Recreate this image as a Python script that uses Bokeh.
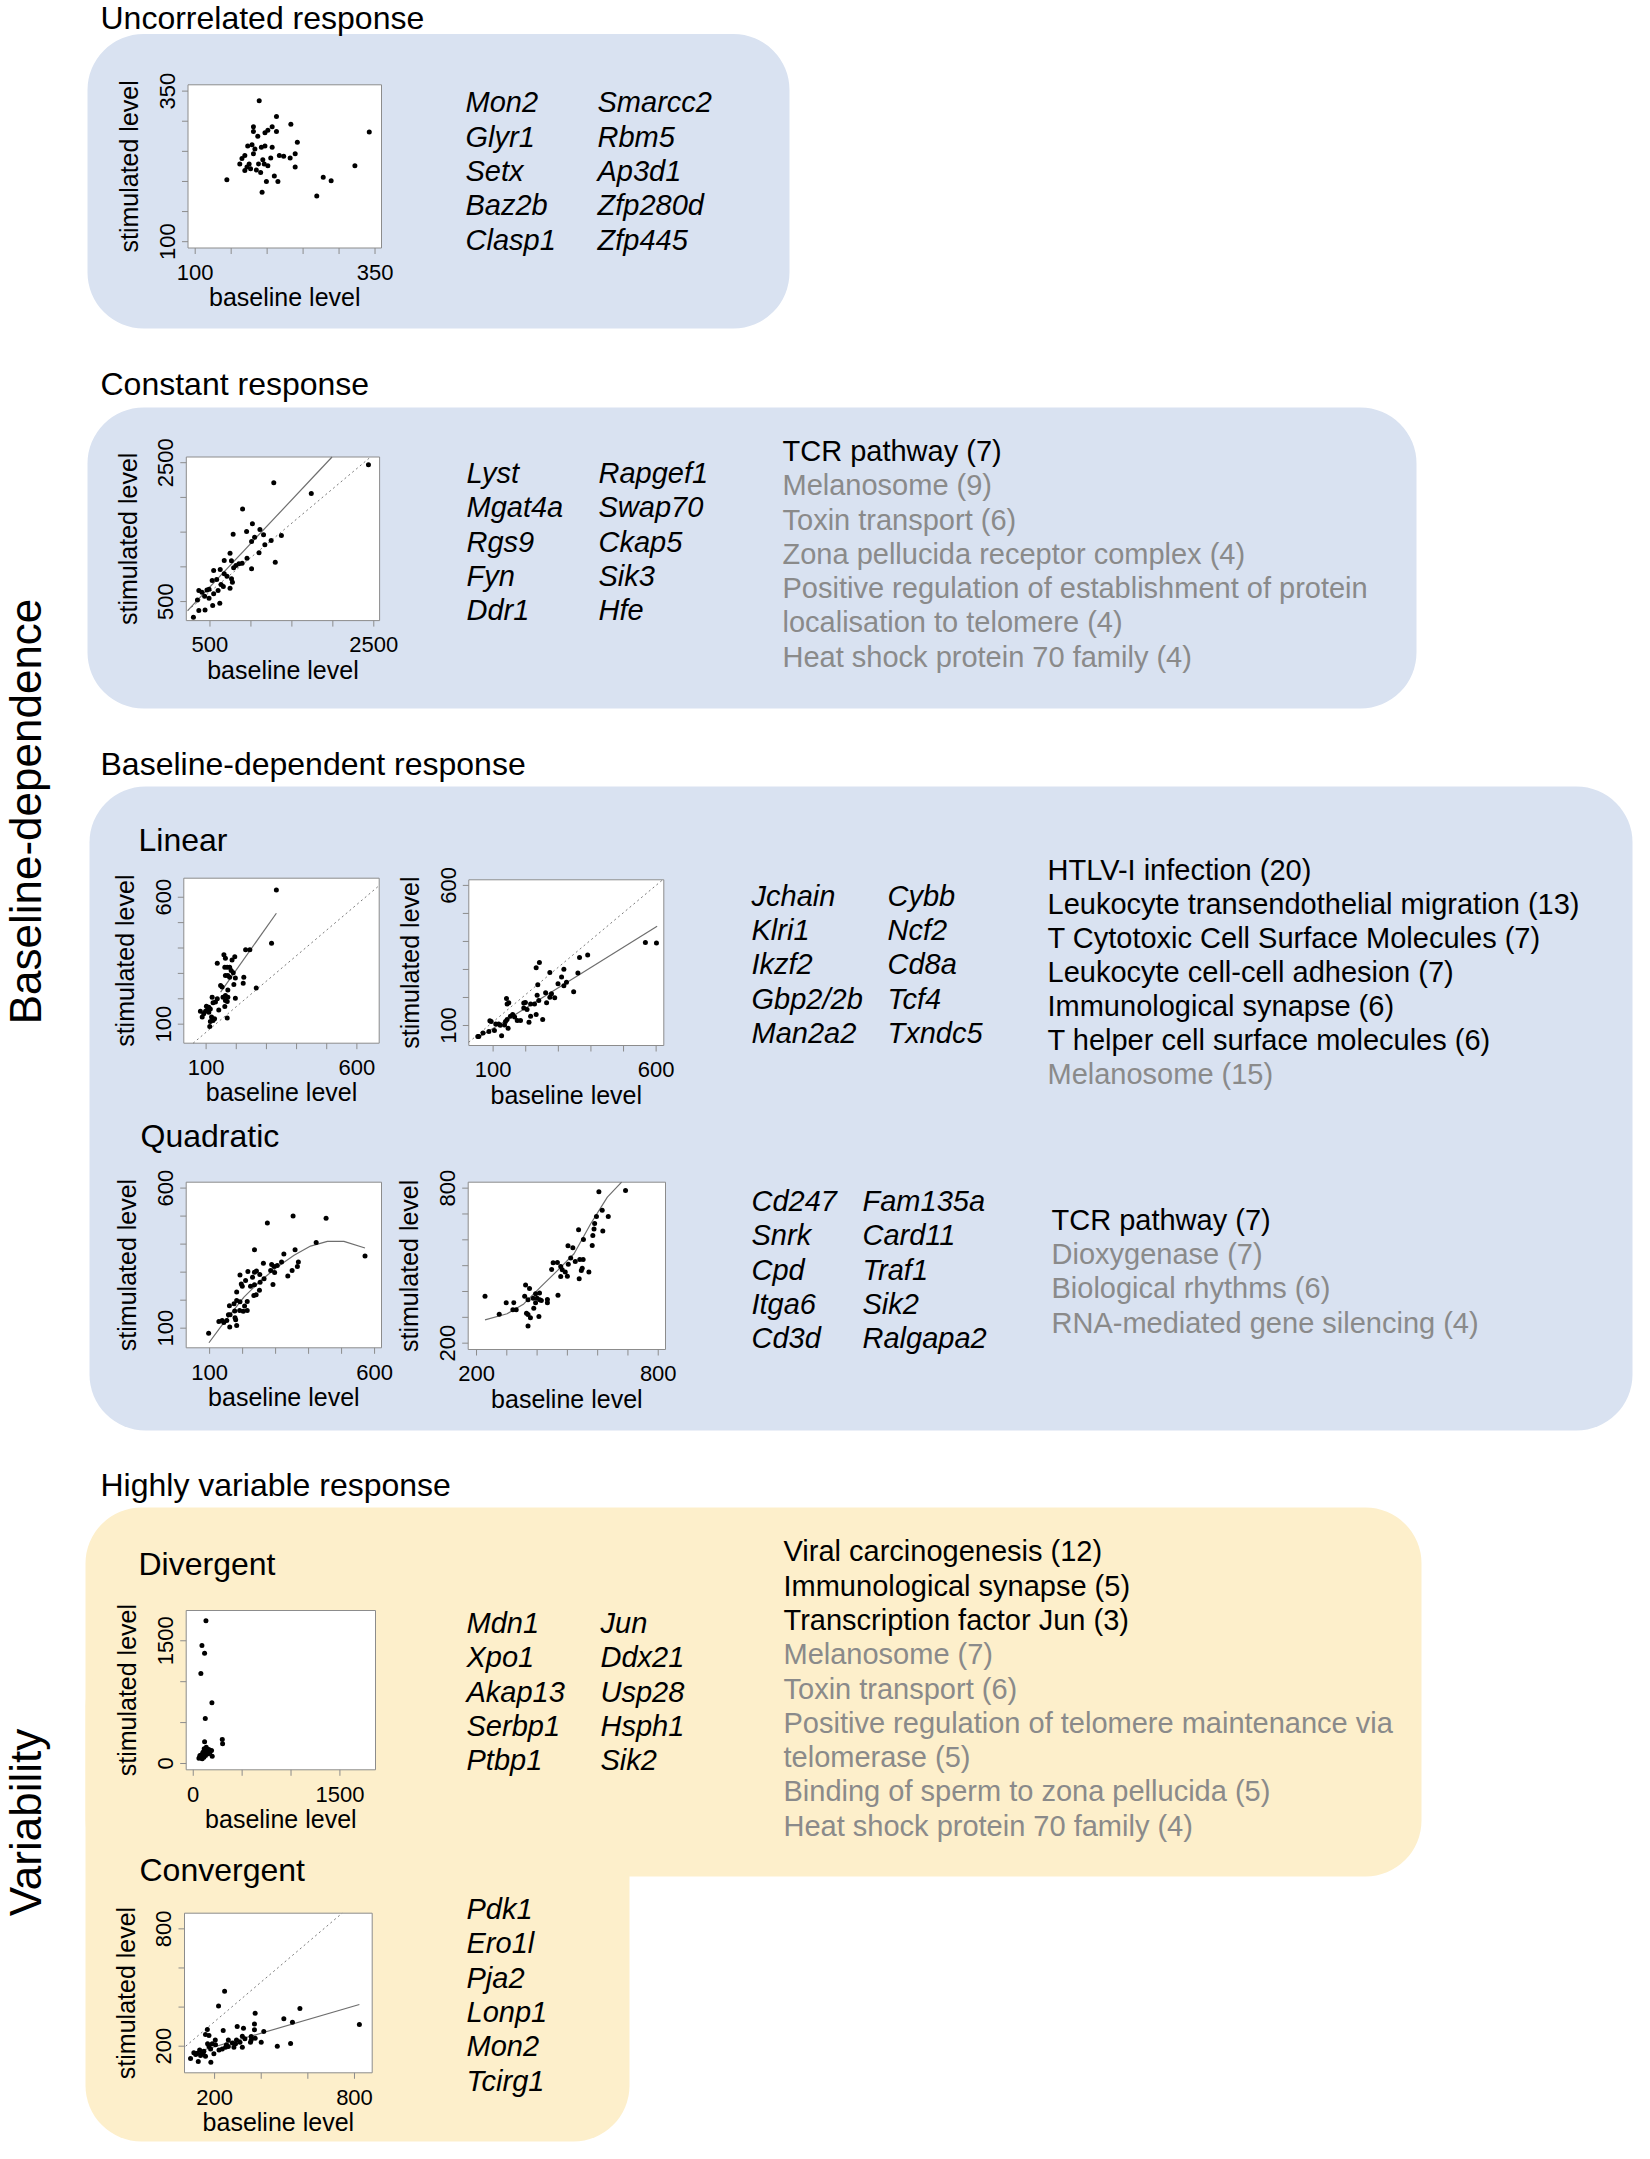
import math
from bokeh.plotting import figure
from bokeh.models import Range1d, BoxAnnotation
from bokeh.core.properties import value
from bokeh.embed import file_html
from bokeh.resources import INLINE

# ---------------- data ----------------
section_titles = ["Uncorrelated response", "Constant response",
                  "Baseline-dependent response", "Highly variable response"]
sub_titles = ["Linear", "Quadratic", "Divergent", "Convergent"]
side_labels = ["Baseline-dependence", "Variability"]
x_axis_label = "baseline level"
y_axis_label = "stimulated level"

# Uncorrelated
uncor_x = [189,213,233,181,207,201,213,181,342,187,197,242,173,179,192,197,207,183,181,239,
           217,223,232,205,194,169,165,162,175,188,196,239,322,169,177,185,191,210,278,144,
           199,215,289,193,269,172,201]
uncor_y = [334,308,295,291,291,285,283,283,282,275,281,265,259,261,257,259,257,254,246,246,
           243,242,239,239,236,243,238,229,229,229,229,224,226,218,221,219,215,209,207,203,
           200,200,201,182,176,224,226]
uncor_range_x = [90, 359]
uncor_range_y = [89.5, 360.5]
uncor_ticks = [100, 150, 200, 250, 300, 350]
uncor_labels = [100, 350]
uncor_genes_1 = ["Mon2", "Glyr1", "Setx", "Baz2b", "Clasp1"]
uncor_genes_2 = ["Smarcc2", "Rbm5", "Ap3d1", "Zfp280d", "Zfp445"]

# Constant
const_x = [2435,1279,1737,898,1018,1110,947,783,1154,1372,1045,1008,1247,1170,1099,745,952,674,762,893,
           854,817,1297,1008,789,625,545,674,582,708,763,774,527,635,745,489,463,599,364,402,
           545,435,489,347,620,533,440,364,298,663]
const_y = [2471,2212,2058,1832,1620,1538,1510,1471,1462,1452,1428,1365,1380,1317,1202,1197,1125,1091,1087,1053,
           1043,1019,1067,971,986,962,947,899,817,865,827,779,803,745,692,678,668,659,659,635,
           611,577,548,524,476,442,380,370,274,716]
const_fit_x = [227, 1990]
const_fit_y = [370, 2582]
const_id_x = [227, 2461]
const_id_y = [370, 2582]
const_range_x = [211, 2571]
const_range_y = [226, 2582]
const_ticks = [500, 1000, 1500, 2000, 2500]
const_labels = [500, 2500]
const_genes_1 = ["Lyst", "Mgat4a", "Rgs9", "Fyn", "Ddr1"]
const_genes_2 = ["Rapgef1", "Swap70", "Ckap5", "Sik3", "Hfe"]
const_terms = ["TCR pathway (7)", "Melanosome (9)", "Toxin transport (6)",
               "Zona pellucida receptor complex (4)",
               "Positive regulation of establishment of protein",
               "localisation to telomere (4)", "Heat shock protein 70 family (4)"]
const_terms_black = 1

# Linear (left)
linA_x = [333,317,231,245,159,195,164,137,186,162,170,178,183,190,164,172,178,197,225,223,
          192,148,153,172,266,164,156,172,197,120,137,131,164,170,123,162,101,109,104,114,
          98,109,81,142,118,87,128,123,114,170,112,92]
linA_y = [629,419,393,393,373,366,360,340,353,324,324,324,311,303,292,292,285,282,285,261,
          256,252,246,235,242,213,206,206,202,206,200,187,193,189,184,170,171,167,156,160,
          151,147,151,156,128,128,121,114,110,124,91,141]
linA_fit_x = [148, 333]
linA_fit_y = [226, 537]
linA_id_x = [57, 674]
linA_id_y = [25, 646]
linA_range_x = [26, 674]
linA_range_y = [25, 675]
# Linear (right)
linB_x = [567,601,365,390,242,232,274,360,317,310,325,317,299,237,347,261,279,289,274,235,
          264,240,227,141,148,143,194,199,215,194,204,232,215,210,252,160,166,153,174,184,
          138,143,135,146,90,94,108,117,122,104,87,69,56,126,53]
linB_y = [396,394,343,352,325,306,289,287,301,273,254,242,249,245,220,217,213,199,201,208,
          181,189,177,196,181,177,180,182,177,162,157,139,133,112,121,139,130,133,118,118,
          114,121,102,90,117,114,105,105,101,82,79,73,61,63,61]
linB_fit_x = [56, 603]
linB_fit_y = [58, 454]
linB_id_x = [25, 618]
linB_id_y = [40, 618]
linB_range_x = [25.4, 623.5]
linB_range_y = [28.6, 620]
lin_ticks = [100, 200, 300, 400, 500, 600]
lin_labels = [100, 600]
lin_genes_1 = ["Jchain", "Klri1", "Ikzf2", "Gbp2/2b", "Man2a2"]
lin_genes_2 = ["Cybb", "Ncf2", "Cd8a", "Tcf4", "Txndc5"]
lin_terms = ["HTLV-I infection (20)", "Leukocyte transendothelial migration  (13)",
             "T Cytotoxic Cell Surface Molecules (7)", "Leukocyte cell-cell adhesion (7)",
             "Immunological synapse (6)", "T helper cell surface molecules (6)",
             "Melanosome (15)"]
lin_terms_black = 6

# Quadratic (left)
quadC_x = [97,128,138,143,152,161,157,162,160,176,177,182,179,174,182,182,192,191,202,206,
           214,214,192,196,199,209,216,224,230,236,236,242,252,234,241,251,236,253,263,265,
           275,285,288,295,292,297,305,318,325,337,350,359,353,366,369,423,453,571]
quadC_y = [82,124,127,120,127,104,148,148,180,161,137,110,130,187,199,229,194,163,160,179,
           163,195,290,258,250,270,302,250,282,300,255,304,292,217,219,235,380,264,332,276,
           475,306,327,320,256,299,324,336,365,286,306,380,500,320,336,406,492,358]
quadC_curve_x = [98,133,164,204,255,305,356,406,457,507,571]
quadC_curve_y = [48,104,151,211,270,318,360,393,410,410,386]
quadC_range_x = [29, 621]
quadC_range_y = [30, 621]
quadC_ticks = [100, 200, 300, 400, 500, 600]
quadC_labels = [100, 600]
# Quadratic (right)
quadD_x = [228,275,298,323,320,331,362,375,359,370,365,370,378,370,389,387,395,400,408,409,
           414,406,395,434,434,469,448,453,467,478,483,493,478,500,503,511,502,518,526,539,
           541,552,546,549,571,582,553,537,584,588,590,596,617,635,615,604,692]
quadD_y = [382,312,356,356,329,329,425,412,382,368,316,311,298,266,335,374,391,374,394,368,
           365,303,356,369,356,385,485,511,512,497,484,475,458,459,505,530,577,569,516,449,
           524,524,481,490,475,578,601,639,617,642,663,690,634,690,714,786,791]
quadD_curve_x = [228,301,356,411,467,522,577,632,679]
quadD_curve_y = [290,314,352,417,481,546,662,765,823]
quadD_range_x = [172.5, 824]
quadD_range_y = [175.5, 823]
quadD_ticks = [200, 300, 400, 500, 600, 700, 800]
quadD_labels = [200, 800]
quad_genes_1 = ["Cd247", "Snrk", "Cpd", "Itga6", "Cd3d"]
quad_genes_2 = ["Fam135a", "Card11", "Traf1", "Sik2", "Ralgapa2"]
quad_terms = ["TCR pathway (7)", "Dioxygenase (7)", "Biological rhythms (6)",
              "RNA-mediated gene silencing (4)"]
quad_terms_black = 1

# Divergent
div_x = [130,89,116,78,191,123,297,300,116,68,85,102,126,143,160,187,194,109,92,75,
         126,133,112,153,170,58,99,119,143,68]
div_y = [1744,1443,1349,1100,742,550,293,240,265,77,106,126,159,139,171,159,90,77,57,69,
         98,200,179,118,139,65,139,126,167,98]
div_range_x = [-72, 1864]
div_range_y = [-77, 1870]
div_ticks = [0, 500, 1000, 1500]
div_labels = [0, 1500]
div_genes_1 = ["Mdn1", "Xpo1", "Akap13", "Serbp1", "Ptbp1"]
div_genes_2 = ["Jun", "Ddx21", "Usp28", "Hsph1", "Sik2"]
div_terms = ["Viral carcinogenesis (12)", "Immunological synapse (5)",
             "Transcription factor Jun (3)", "Melanosome (7)", "Toxin transport (6)",
             "Positive regulation of telomere maintenance via", "telomerase (5)",
             "Binding of sperm to zona pellucida (5)", "Heat shock protein 70 family (4)"]
div_terms_black = 3

# Convergent
conv_x = [243,217,566,374,497,534,821,371,297,324,237,411,169,161,176,371,357,374,400,354,
          357,319,330,294,309,290,283,319,276,259,259,247,251,233,219,203,204,197,190,170,
          176,183,154,144,136,140,126,119,111,97,130,184,469,526,150,161]
conv_y = [481,405,393,369,340,323,311,314,301,292,280,275,285,260,255,284,249,241,220,220,
          232,251,238,232,220,212,195,195,217,232,198,195,207,186,181,232,208,161,212,212,
          198,186,174,161,181,152,164,157,166,137,122,118,200,214,164,149]
conv_fit_x = [119, 821]
conv_fit_y = [169, 413]
conv_id_x = [76, 747]
conv_id_y = [200, 880]
conv_range_x = [71, 876]
conv_range_y = [64, 880]
conv_ticks = [200, 400, 600, 800]
conv_labels = [200, 800]
conv_genes = ["Pdk1", "Ero1l", "Pja2", "Lonp1", "Mon2", "Tcirg1"]

# ---------------- styling ----------------
FONT = value("Liberation Sans")
BLUE = "#d9e2f1"
YELLOW = "#fdefcb"
GREY_TEXT = "#8a8a8a"
FRAME = "#8c8c8c"
SHIFT = 0.35   # em offset between the requested anchor and the drawn baseline

W, H = 1634, 2143
p = figure(width=W, height=H, x_range=Range1d(0, W), y_range=Range1d(H, 0),
           output_backend="svg", toolbar_location=None, min_border=0,
           x_axis_location=None, y_axis_location=None)
p.grid.visible = False
p.outline_line_color = None
p.background_fill_color = "white"
p.border_fill_color = "white"


def panel(l, r, t, b, color, radius=56):
    p.add_layout(BoxAnnotation(left=l, right=r, top=t, bottom=b, fill_color=color,
                               fill_alpha=1.0, line_color=None, border_radius=radius,
                               level="underlay", editable=False))


panel(87, 789, 33.5, 328, BLUE)
panel(87, 1416, 407, 708, BLUE)
panel(89, 1632, 786, 1430, BLUE)
panel(85, 1421, 1507, 1876, YELLOW)
panel(85, 629, 1650, 2141, YELLOW)


def label(x, y, txt, size=32, color="black", style="normal", align="left", angle=0.0):
    if angle:
        x = x - SHIFT * size
    else:
        y = y - SHIFT * size
    p.text(x=[x], y=[y], text=[txt], text_font=FONT, text_font_size=f"{size}px",
           text_color=color, text_font_style=style, text_align=align,
           text_baseline="alphabetic", angle=angle)


def column(x, y0, items, step=34.3, size=29, style="normal", n_black=None):
    ys = [y0 - SHIFT * size + i * step for i in range(len(items))]
    cols = ["black" if (n_black is None or i < n_black) else GREY_TEXT for i in range(len(items))]
    p.text(x=[x] * len(items), y=ys, text=items, text_color=cols, text_font=FONT,
           text_font_size=f"{size}px", text_font_style=style, text_baseline="alphabetic")


# section titles
for txt, yb in zip(section_titles, [29, 395, 775, 1496]):
    label(100, yb, txt)
for txt, (xx, yb) in zip(sub_titles, [(138, 851), (140, 1147), (138, 1575), (139, 1881)]):
    label(xx, yb, txt)
label(40, 811, side_labels[0], size=44, align="center", angle=math.pi / 2)
label(40, 1822, side_labels[1], size=44, align="center", angle=math.pi / 2)


def mini(box, xr, yr, xticks, yticks, xlabs, ylabs, px, py, solid=None, dotted=None, curve=None):
    l, r, t, b = box
    sub = p.subplot(x_source=Range1d(xr[0], xr[1]), y_source=Range1d(yr[0], yr[1]),
                    x_target=Range1d(l, r), y_target=Range1d(b, t))
    kx = (xr[1] - xr[0]) / (r - l)
    ky = (yr[1] - yr[0]) / (b - t)
    sub.quad(left=[xr[0]], right=[xr[1]], bottom=[yr[0]], top=[yr[1]],
             fill_color="white", line_color=FRAME, line_width=1)
    n, m = len(xticks), len(yticks)
    sub.segment(x0=xticks, x1=xticks, y0=[yr[0]] * n, y1=[yr[0] - 6 * ky] * n,
                line_color=FRAME, line_width=1)
    sub.segment(x0=[xr[0]] * m, x1=[xr[0] - 6 * kx] * m, y0=yticks, y1=yticks,
                line_color=FRAME, line_width=1)
    sub.text(x=xlabs, y=[yr[0]] * len(xlabs), text=[str(v) for v in xlabs], text_font=FONT,
             text_font_size="22px", text_align="center", text_baseline="alphabetic",
             y_offset=32 - SHIFT * 22)
    sub.text(x=[xr[0]] * len(ylabs), y=ylabs, text=[str(v) for v in ylabs], text_font=FONT,
             text_font_size="22px", text_align="center", text_baseline="alphabetic",
             x_offset=-13 - SHIFT * 22, angle=math.pi / 2)
    sub.text(x=[(xr[0] + xr[1]) / 2], y=[yr[0]], text=[x_axis_label], text_font=FONT,
             text_font_size="25px", text_align="center", text_baseline="alphabetic",
             y_offset=58 - SHIFT * 25)
    sub.text(x=[xr[0]], y=[(yr[0] + yr[1]) / 2], text=[y_axis_label], text_font=FONT,
             text_font_size="25px", text_align="center", text_baseline="alphabetic",
             x_offset=-50 - SHIFT * 25, angle=math.pi / 2)
    if dotted is not None:
        sub.line(dotted[0], dotted[1], line_color="#7a7a7a", line_width=1, line_dash="2 3")
    if solid is not None:
        sub.line(solid[0], solid[1], line_color="#6e6e6e", line_width=1.2)
    if curve is not None:
        sub.line(curve[0], curve[1], line_color="#6e6e6e", line_width=1.2)
    sub.scatter(px, py, size=5, color="black", line_width=0)


mini((187.5, 381, 84.3, 247.5), uncor_range_x, uncor_range_y, uncor_ticks, uncor_ticks,
     uncor_labels, uncor_labels, uncor_x, uncor_y)
mini((185.8, 379.1, 456.5, 620.1), const_range_x, const_range_y, const_ticks, const_ticks,
     const_labels, const_labels, const_x, const_y,
     solid=(const_fit_x, const_fit_y), dotted=(const_id_x, const_id_y))
mini((183.3, 378.7, 877.7, 1042.7), linA_range_x, linA_range_y, lin_ticks, lin_ticks,
     lin_labels, lin_labels, linA_x, linA_y,
     solid=(linA_fit_x, linA_fit_y), dotted=(linA_id_x, linA_id_y))
mini((468.3, 663.3, 879.3, 1045), linB_range_x, linB_range_y, lin_ticks, lin_ticks,
     lin_labels, lin_labels, linB_x, linB_y,
     solid=(linB_fit_x, linB_fit_y), dotted=(linB_id_x, linB_id_y))
mini((185.7, 381, 1181.7, 1347.3), quadC_range_x, quadC_range_y, quadC_ticks, quadC_ticks,
     quadC_labels, quadC_labels, quadC_x, quadC_y, curve=(quadC_curve_x, quadC_curve_y))
mini((467.7, 665, 1181.7, 1349), quadD_range_x, quadD_range_y, quadD_ticks, quadD_ticks,
     quadD_labels, quadD_labels, quadD_x, quadD_y, curve=(quadD_curve_x, quadD_curve_y))
mini((185.7, 375, 1610, 1769.3), div_range_x, div_range_y, div_ticks, div_ticks,
     div_labels, div_labels, div_x, div_y)
mini((184, 371.7, 1912.7, 2072.3), conv_range_x, conv_range_y, conv_ticks, conv_ticks,
     conv_labels, conv_labels, conv_x, conv_y,
     solid=(conv_fit_x, conv_fit_y), dotted=(conv_id_x, conv_id_y))

# gene lists
column(465, 112, uncor_genes_1, style="italic")
column(597, 112, uncor_genes_2, style="italic")
column(466, 482.7, const_genes_1, style="italic")
column(598, 482.7, const_genes_2, style="italic")
column(751, 905.4, lin_genes_1, style="italic")
column(887, 905.4, lin_genes_2, style="italic")
column(751, 1210.7, quad_genes_1, style="italic")
column(862, 1210.7, quad_genes_2, style="italic")
column(466, 1632.8, div_genes_1, style="italic")
column(600, 1632.8, div_genes_2, style="italic")
column(466, 1918.8, conv_genes, style="italic")

# enriched terms
column(782, 460.6, const_terms, n_black=const_terms_black)
column(1047, 879.3, lin_terms, step=34.1, n_black=lin_terms_black)
column(1051, 1229.3, quad_terms, n_black=quad_terms_black)
column(783, 1561, div_terms, n_black=div_terms_black)

open("out.html", "w").write(file_html(p, INLINE))
